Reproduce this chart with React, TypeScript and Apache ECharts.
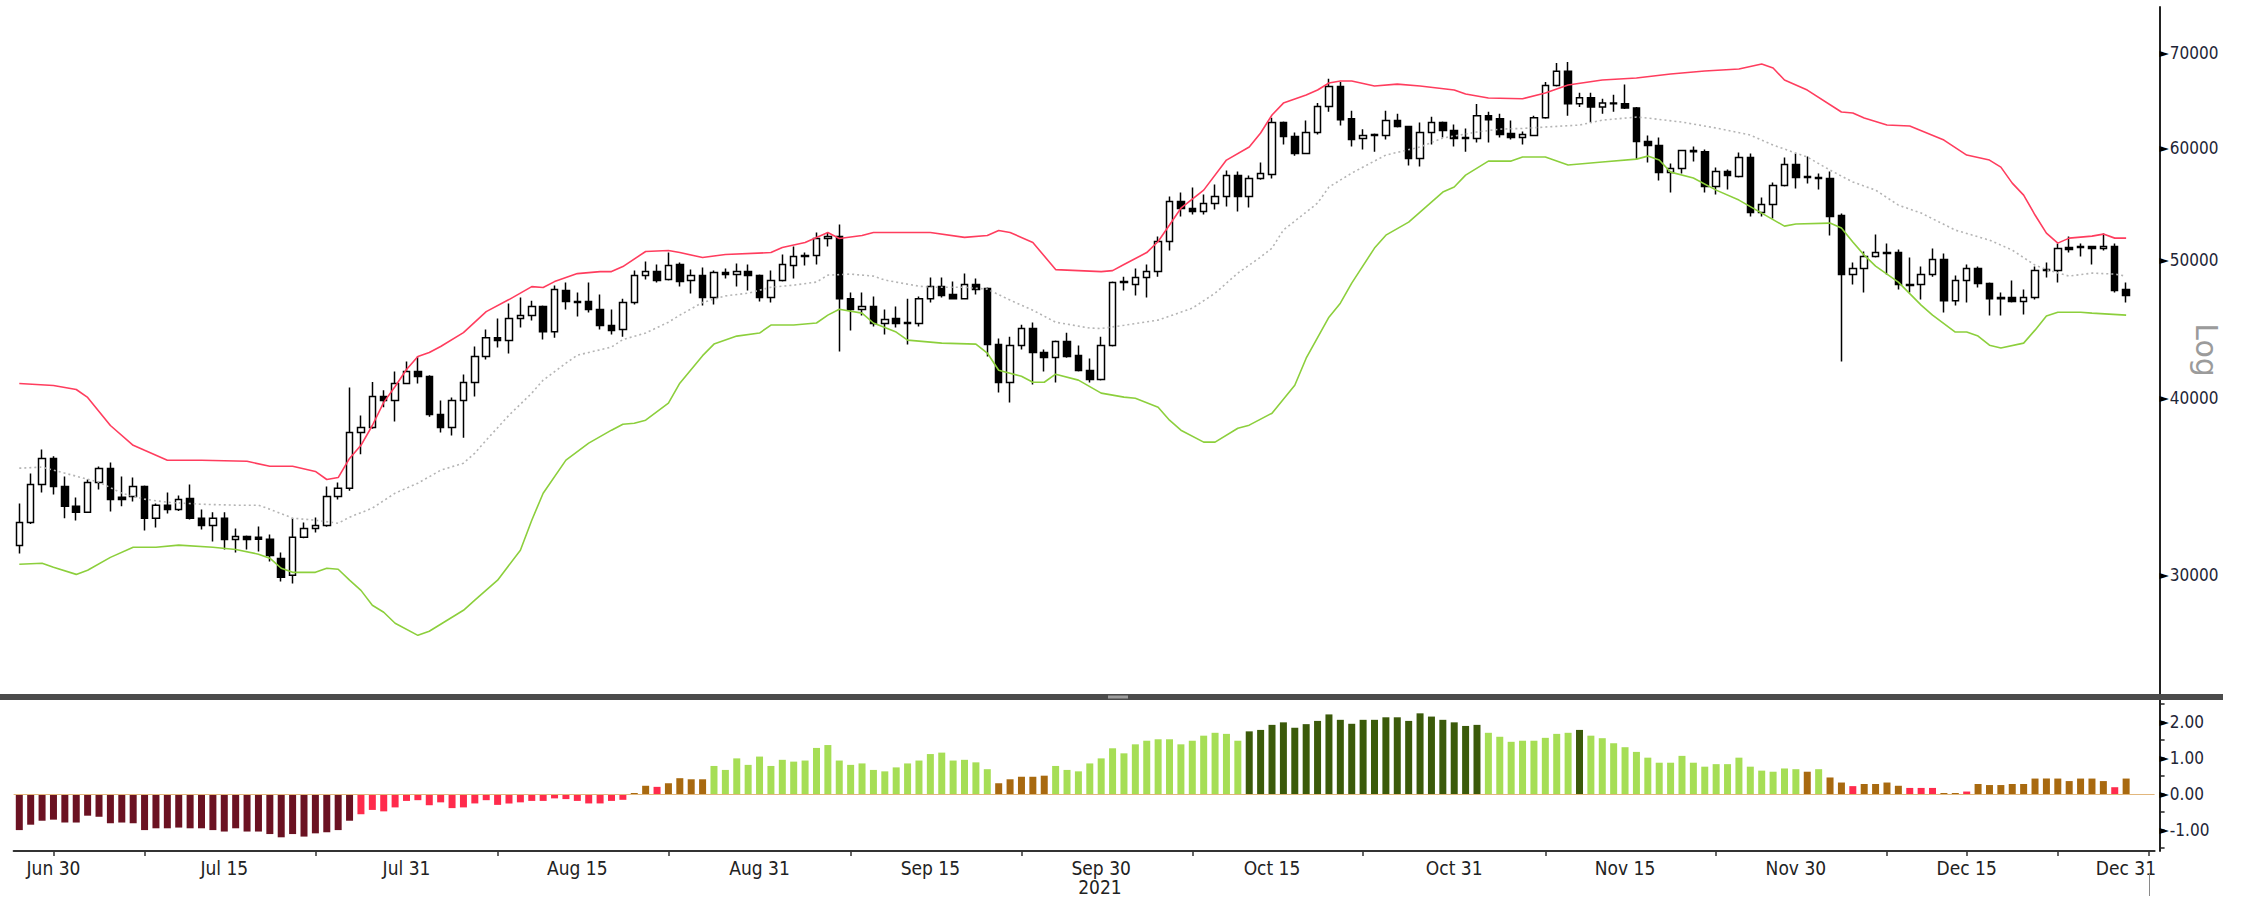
import React, { useEffect, useRef } from 'react';
import * as echarts from 'echarts';

// ---------- categories (daily, Jun 27 2021 .. Dec 31 2021) ----------
const FIRST_DAY_UTC = Date.UTC(2021, 5, 27);
const DAY_COUNT = 188;
const MONTHS = ['Jan', 'Feb', 'Mar', 'Apr', 'May', 'Jun', 'Jul', 'Aug', 'Sep', 'Oct', 'Nov', 'Dec'];
const categories: string[] = [];
for (let i = 0; i < DAY_COUNT; i++) {
  categories.push(new Date(FIRST_DAY_UTC + i * 86400000).toISOString().slice(0, 10));
}

const labelDates = [
  '2021-06-30', '2021-07-15', '2021-07-31', '2021-08-15', '2021-08-31', '2021-09-15',
  '2021-09-30', '2021-10-15', '2021-10-31', '2021-11-15', '2021-11-30', '2021-12-15', '2021-12-31',
];
const tickDates = [
  '2021-06-30', '2021-07-08', '2021-07-23', '2021-08-08', '2021-08-23', '2021-09-08', '2021-09-23',
  '2021-10-08', '2021-10-23', '2021-11-08', '2021-11-23', '2021-12-08', '2021-12-15', '2021-12-23', '2021-12-31',
];
const priceTicks = [30000, 40000, 50000, 60000, 70000];
const oscLabelValues = [-1, 0, 1, 2];
const oscTickValues = [-1.5, -1, -0.5, 0, 0.5, 1, 1.5, 2, 2.5];

// ---------- candles ----------
const opens = [
  31480, 32680, 34760, 36260, 34650, 33550, 33220, 34870, 35670, 34050,
  34090, 34650, 32900, 33600, 33380, 33970, 32900, 32520, 32900, 31790,
  31950, 31900, 31800, 30830, 30000, 31900, 32360, 32520, 34090, 34540,
  37820, 38120, 40090, 39830, 40950, 41760, 41420, 38930, 38120, 39830,
  41010, 42780, 44110, 43900, 45500, 45720, 46390, 44540, 47610, 46770,
  46770, 46170, 44980, 44690, 46700, 48780, 49100, 48470, 49670, 48390,
  48780, 47070, 49020, 48860, 49100, 48780, 47070, 48390, 49580, 50310,
  50400, 51810, 51980, 46990, 46170, 46390, 45130, 45500, 45200, 45130,
  46990, 47920, 47300, 46990, 48080, 47770, 43620, 41010, 43550, 44760,
  43060, 42710, 43830, 42850, 41820, 41210, 43550, 48310, 48080, 48630,
  49100, 51560, 55010, 54390, 54120, 54830, 55460, 57380, 55460, 57100,
  57480, 62530, 61130, 59460, 61540, 64180, 66290, 62930, 60930, 61330,
  61230, 62730, 62130, 58980, 61540, 62530, 61740, 61030, 60930, 63230,
  62930, 61440, 61030, 61230, 63030, 66400, 67970, 64460, 65100, 64140,
  64560, 64460, 64030, 60630, 60240, 57670, 58040, 59750, 59650, 56370,
  57760, 57290, 59080, 54040, 54740, 56460, 58410, 57290, 57200, 57100,
  53780, 48860, 49340, 50310, 50640, 50640, 48080, 48080, 48860, 50070,
  46840, 48390, 49340, 48160, 47070, 47070, 46770, 47070, 49260, 49180,
  51060, 51140, 51140, 50980, 51140, 47690,
];
const closes = [
  32680, 34760, 36260, 34650, 33550, 33220, 34870, 35670, 33920, 33920,
  34650, 32900, 33600, 33380, 33920, 32900, 32520, 32900, 31790, 31950,
  31790, 31800, 30980, 29900, 31900, 32360, 32520, 34090, 34540, 37820,
  38120, 40090, 39830, 40950, 41760, 41420, 38930, 38120, 39830, 41010,
  42780, 44110, 43900, 45500, 45720, 46390, 44540, 47690, 46770, 46700,
  46170, 44980, 44620, 46700, 48780, 49100, 48390, 49580, 48310, 48780,
  47070, 49020, 48860, 49100, 48780, 47070, 48390, 49670, 50310, 50400,
  51810, 51980, 46990, 46170, 46390, 45130, 45420, 45130, 45130, 46990,
  47920, 47230, 46990, 48080, 47690, 43620, 41010, 43550, 44760, 43060,
  42710, 43830, 42780, 41820, 41210, 43550, 48230, 48230, 48630, 49100,
  51560, 55010, 54390, 54120, 54830, 55460, 57380, 55460, 57100, 57570,
  62530, 61130, 59460, 61540, 64180, 66290, 62830, 60830, 61230, 61230,
  62730, 62130, 58980, 61540, 62530, 61740, 60930, 60930, 63230, 62830,
  61340, 61030, 61340, 63030, 66400, 67970, 64460, 65100, 64140, 64560,
  64460, 64030, 60630, 60240, 57670, 58040, 59750, 59650, 56370, 57760,
  57380, 59080, 54040, 54740, 56460, 58410, 57200, 57200, 57100, 53690,
  48860, 49340, 50310, 50640, 50560, 48080, 48000, 48860, 50070, 46840,
  48390, 49340, 48160, 46990, 46990, 46770, 47070, 49180, 49180, 50980,
  50890, 51060, 50980, 51140, 47610, 47230,
];
const lows = [
  31080, 32600, 34310, 34200, 32900, 32790, 33200, 34480, 33270, 33550,
  33810, 32260, 32410, 33160, 33300, 32840, 32310, 31690, 31280, 31130,
  31280, 31180, 30680, 29700, 29600, 31850, 32150, 32450, 33920, 34400,
  36500, 38050, 39400, 38500, 40900, 40950, 38800, 37820, 37640, 37500,
  40090, 42570, 43410, 42990, 44840, 45350, 43970, 44110, 46170, 45650,
  45950, 44690, 44330, 44180, 46550, 48470, 48230, 48400, 47920, 47380,
  46470, 46540, 48550, 47920, 47610, 46770, 46690, 48310, 48550, 49580,
  49670, 51140, 43130, 44620, 45720, 44910, 44330, 44840, 43620, 44910,
  46690, 47070, 46920, 46920, 47300, 42780, 40350, 39710, 43270, 40880,
  41760, 41010, 42700, 41750, 41010, 41140, 43480, 47610, 47230, 47070,
  48700, 50810, 53690, 53860, 53860, 54300, 54560, 54120, 54480, 57000,
  57100, 60340, 59260, 59400, 61340, 63650, 62230, 60140, 59850, 59650,
  60830, 62030, 58330, 58230, 60340, 61030, 60140, 59650, 60530, 60530,
  61030, 60830, 60340, 61150, 62930, 66290, 63230, 64140, 62530, 63440,
  63650, 63920, 58890, 58600, 56920, 55820, 57580, 58700, 55820, 55650,
  56090, 57200, 53690, 53690, 53520, 56370, 56180, 56650, 56090, 52060,
  42440, 48080, 47460, 50230, 48860, 47690, 47460, 46920, 48700, 45950,
  46470, 46690, 47850, 45720, 45720, 46700, 45800, 46920, 48630, 48230,
  50640, 50310, 49670, 50810, 47460, 46700,
];
const highs = [
  33700, 35380, 36790, 36380, 35210, 34030, 35040, 35780, 36020, 35210,
  35150, 34700, 33700, 34310, 34140, 34760, 33380, 33220, 33220, 32360,
  32000, 32470, 32050, 31130, 32900, 32680, 32950, 34650, 34870, 40680,
  38870, 41040, 40500, 41760, 42440, 42780, 41500, 39830, 40030, 41550,
  43480, 44690, 45500, 46620, 47080, 46840, 46470, 48000, 48230, 47460,
  48230, 47300, 46170, 46990, 49180, 49910, 49670, 50640, 49830, 49260,
  49420, 49180, 49340, 49750, 49670, 48860, 49180, 50480, 51140, 50640,
  52310, 52310, 53000, 47460, 47460, 47150, 46170, 46390, 46990, 47150,
  48630, 48630, 48310, 48940, 48550, 47850, 44040, 44180, 45050, 45200,
  43270, 43900, 44470, 43550, 42640, 44180, 48310, 48700, 49340, 49670,
  51980, 55460, 55830, 56270, 55640, 56550, 57850, 57750, 57380, 58600,
  63030, 62630, 61540, 62730, 64560, 67130, 66800, 63750, 61850, 61440,
  63750, 63440, 62200, 62530, 63130, 62630, 62330, 61940, 64440, 63650,
  63440, 62730, 61640, 63230, 66800, 68890, 69000, 65630, 65630, 64990,
  65420, 66510, 64140, 61230, 61030, 58510, 59800, 60140, 59850, 58130,
  57940, 59560, 59460, 55370, 56740, 59080, 59460, 59180, 57570, 57760,
  53950, 49830, 50730, 52140, 51390, 50890, 50230, 49500, 50980, 50560,
  48780, 49670, 49500, 48230, 47460, 48390, 47690, 49500, 49830, 51390,
  51980, 51390, 51200, 52220, 51390, 48230,
];

// ---------- Bollinger bands, read as [candle number, price] ----------
const upperBand = [
  [1, 40950], [4, 40810], [6, 40550], [7, 40030], [9, 38250], [11, 37040], [12, 36740], [14, 36150],
  [17, 36150], [21, 36090], [23, 35800], [25, 35800], [27, 35500], [28, 35040], [29, 35150], [30, 36260],
  [31, 37040], [32, 38250], [33, 39710], [34, 40750], [35, 41890], [36, 42780], [37, 43060], [38, 43480],
  [40, 44470], [42, 46010], [44, 46920], [46, 47920], [47, 47850], [48, 48310], [50, 48940], [52, 49100],
  [53, 49100], [54, 49500], [56, 50730], [58, 50810], [59, 50640], [61, 50230], [63, 50480], [67, 50640],
  [68, 51060], [70, 51480], [71, 51900], [72, 52310], [73, 51810], [75, 52060], [76, 52310], [81, 52310],
  [84, 51900], [86, 52060], [87, 52480], [88, 52310], [90, 51480], [92, 49260], [96, 49100], [97, 49180],
  [98, 49670], [100, 50640], [101, 51560], [102, 52950], [103, 54420], [105, 56040], [107, 58840], [109, 60100],
  [110, 61480], [111, 63300], [112, 64540], [114, 65390], [115, 65920], [116, 66680], [117, 66890], [118, 66890],
  [120, 66350], [122, 66560], [124, 66350], [127, 65920], [128, 65490], [130, 65070], [133, 65000], [135, 65600],
  [137, 66460], [140, 67000], [143, 67220], [146, 67660], [149, 67990], [152, 68210], [154, 68760], [155, 68320],
  [156, 67000], [158, 65920], [161, 63610], [162, 63510], [163, 62990], [165, 62280], [167, 62180], [170, 60780],
  [172, 59320], [174, 58840], [175, 58170], [176, 56680], [177, 55590], [178, 53820], [179, 52260], [180, 51420],
  [181, 51840], [183, 52010], [184, 52180], [185, 51840], [186, 51840],
];
const middleBand = [
  [1, 35690], [3, 35750], [5, 35400], [8, 34890], [10, 34270], [12, 33940], [14, 33770], [17, 33660],
  [20, 33610], [22, 33610], [23, 33390], [25, 32910], [27, 32800], [29, 32640], [30, 32960], [32, 33450],
  [34, 34270], [36, 34830], [38, 35570], [40, 35980], [41, 36570], [42, 37350], [44, 38890], [46, 40310],
  [47, 41170], [49, 42320], [50, 42870], [53, 43440], [54, 43970], [56, 44440], [58, 45230], [59, 45750],
  [61, 46700], [63, 47200], [65, 47410], [67, 47870], [69, 48030], [71, 48270], [72, 48820], [74, 48900],
  [76, 48740], [77, 48430], [80, 47950], [81, 47870], [84, 47870], [86, 47720], [88, 46880], [90, 46120],
  [92, 45230], [95, 44800], [96, 44770], [98, 45000], [101, 45380], [104, 46270], [106, 47410], [108, 48980],
  [110, 50270], [111, 51010], [112, 52520], [115, 54870], [116, 56320], [118, 57610], [121, 59320], [124, 60100],
  [126, 60980], [129, 61580], [131, 61870], [133, 61940], [135, 62080], [138, 62280], [140, 62780], [143, 63090],
  [144, 62990], [147, 62580], [150, 61980], [153, 61280], [155, 60290], [158, 59130], [160, 57890], [162, 56780],
  [164, 56040], [166, 54690], [168, 53990], [171, 52520], [174, 51670], [176, 50840], [178, 49620], [179, 49260],
  [181, 48740], [183, 48980], [185, 48900], [186, 48740],
];
const lowerBand = [
  [1, 30540], [3, 30590], [4, 30390], [6, 30040], [7, 30240], [9, 30880], [11, 31390], [13, 31390],
  [15, 31500], [18, 31390], [20, 31280], [22, 31040], [23, 30840], [24, 30340], [25, 30140], [27, 30140],
  [28, 30340], [29, 30290], [30, 29760], [31, 29270], [32, 28570], [33, 28250], [34, 27750], [36, 27210],
  [37, 27390], [40, 28340], [41, 28810], [43, 29760], [45, 31240], [46, 32800], [47, 34270], [49, 36160],
  [51, 37170], [53, 37960], [54, 38330], [55, 38390], [56, 38580], [58, 39660], [59, 40970], [61, 42840],
  [62, 43650], [64, 44220], [66, 44440], [67, 45020], [69, 45020], [71, 45170], [72, 45750], [73, 46190],
  [75, 45900], [76, 45170], [78, 44510], [79, 43930], [82, 43720], [85, 43650], [86, 43020], [87, 41840],
  [89, 41430], [90, 41030], [91, 41030], [92, 41570], [94, 41170], [96, 40310], [98, 40050], [99, 39980],
  [101, 39400], [102, 38580], [103, 37960], [105, 37230], [106, 37230], [108, 38080], [109, 38270], [111, 39020],
  [113, 40830], [114, 42660], [116, 45600], [117, 46650], [118, 48190], [120, 51010], [121, 52090], [123, 53200],
  [124, 54080], [126, 55860], [127, 56320], [128, 57420], [130, 58740], [132, 58740], [133, 59130], [135, 59130],
  [137, 58370], [140, 58650], [143, 58930], [144, 59220], [145, 58840], [146, 57700], [148, 57150], [150, 56040],
  [152, 55140], [154, 53990], [156, 52860], [157, 53040], [160, 53120], [161, 52690], [162, 51510], [163, 50430],
  [164, 49540], [166, 48270], [168, 46500], [169, 45750], [171, 44510], [172, 44510], [173, 44220], [174, 43570],
  [175, 43370], [177, 43720], [178, 44650], [179, 45680], [180, 45970], [182, 45970], [183, 45900], [186, 45750],
];

// ---------- lower panel oscillator ----------
const oscValues = [
  -1.0, -0.85, -0.74, -0.71, -0.79, -0.79, -0.6, -0.63, -0.81, -0.79,
  -0.81, -1.0, -0.95, -0.95, -0.93, -0.95, -0.95, -1.0, -1.04, -0.95,
  -1.04, -1.04, -1.11, -1.2, -1.11, -1.18, -1.09, -1.06, -1.0, -0.74,
  -0.56, -0.44, -0.48, -0.37, -0.19, -0.17, -0.31, -0.23, -0.39, -0.37,
  -0.26, -0.17, -0.3, -0.26, -0.23, -0.19, -0.19, -0.12, -0.14, -0.19,
  -0.26, -0.26, -0.19, -0.16, 0.03, 0.23, 0.2, 0.3, 0.44, 0.41,
  0.41, 0.78, 0.67, 0.99, 0.81, 1.04, 0.78, 0.95, 0.9, 0.93,
  1.28, 1.36, 0.93, 0.81, 0.85, 0.67, 0.63, 0.74, 0.85, 0.93,
  1.11, 1.15, 0.93, 0.95, 0.88, 0.69, 0.3, 0.41, 0.48, 0.48,
  0.51, 0.78, 0.67, 0.63, 0.85, 0.99, 1.27, 1.13, 1.38, 1.48,
  1.52, 1.52, 1.38, 1.48, 1.62, 1.7, 1.67, 1.48, 1.74, 1.78,
  1.92, 1.99, 1.84, 1.94, 2.03, 2.21, 2.06, 1.95, 2.06, 2.06,
  2.13, 2.13, 2.03, 2.24, 2.15, 2.06, 1.99, 1.89, 1.92, 1.7,
  1.59, 1.45, 1.48, 1.48, 1.56, 1.67, 1.7, 1.78, 1.62, 1.55,
  1.41, 1.3, 1.17, 1.01, 0.87, 0.87, 1.06, 0.87, 0.76, 0.83,
  0.83, 1.01, 0.76, 0.65, 0.62, 0.71, 0.69, 0.62, 0.69, 0.46,
  0.32, 0.22, 0.28, 0.28, 0.32, 0.23, 0.17, 0.17, 0.17, 0.03,
  0.03, 0.07, 0.28, 0.25, 0.25, 0.28, 0.28, 0.43, 0.43, 0.43,
  0.36, 0.43, 0.43, 0.36, 0.19, 0.43,
];
// colour class of each bar, as runs of [class, count]
const oscColorRuns: [string, number][] = [
  ['M', 30], ['R', 24], ['B', 2], ['R', 1], ['B', 4], ['L', 25], ['B', 5], ['L', 17], ['D', 21],
  ['L', 8], ['D', 1], ['L', 19], ['B', 1], ['L', 1], ['B', 2], ['R', 1], ['B', 4], ['R', 3],
  ['B', 2], ['R', 1], ['B', 12], ['R', 1], ['B', 1],
];
const oscPalette: Record<string, string> = {
  M: '#6b1222', R: '#ff2b4c', B: '#a8690f', L: '#a6de55', D: '#3b5a0a',
};

const NARROW = '"Liberation Sans Narrow", "Arial Narrow", "DejaVu Sans Condensed", sans-serif';
const AXISFONT = '"DejaVu Sans Condensed", "DejaVu Sans", Verdana, sans-serif';

function dateLabel(v: string): string {
  const m = Number(v.slice(5, 7));
  const d = Number(v.slice(8, 10));
  return `${MONTHS[m - 1]} ${d}`;
}

function buildOption() {
  const candleData = opens.map((o, i) => [o, closes[i], lows[i], highs[i]]);
  const oscCodes: string[] = [];
  oscColorRuns.forEach(([c, n]) => {
    for (let k = 0; k < n; k++) oscCodes.push(c);
  });
  const oscData = oscValues.map((v, i) => ({
    value: v,
    itemStyle: { color: oscPalette[oscCodes[i]] },
  }));
  const toSeries = (arr: number[][]) => arr.map(([n, v]) => [n - 1, v]);

  const GRID_LEFT = 13.6;
  const GRID_WIDTH = 2141;

  const rightLabelRich = {
    a: { fontSize: 12, color: '#000', fontFamily: '"DejaVu Sans", sans-serif', padding: [0, 1, 0, 0] },
    b: { fontSize: 17, color: '#1e2536', fontFamily: AXISFONT },
  };

  return {
    animation: false,
    backgroundColor: '#ffffff',
    grid: [
      { left: GRID_LEFT, width: GRID_WIDTH, top: 7, height: 687, containLabel: false, outerBoundsMode: 'none' },
      { left: GRID_LEFT, width: GRID_WIDTH, top: 700, height: 151, containLabel: false, outerBoundsMode: 'none' },
    ],
    xAxis: [
      {
        type: 'category', gridIndex: 0, data: categories, boundaryGap: true, show: false,
      },
      {
        type: 'category', gridIndex: 1, data: categories, boundaryGap: true,
        axisLine: { show: true, onZero: false, lineStyle: { color: '#333', width: 2 } },
        axisTick: {
          show: true, alignWithLabel: true, length: 5,
          interval: (_i: number, v: string) => tickDates.includes(v),
          lineStyle: { color: '#333', width: 1.5 },
        },
        axisLabel: {
          interval: (_i: number, v: string) => labelDates.includes(v),
          formatter: (v: string) => (v === '2021-12-31' ? `{r|${dateLabel(v)}}` : dateLabel(v)),
          color: '#222', fontSize: 19, fontFamily: NARROW, margin: 7,
          rich: { r: { padding: [0, 46, 0, 0], color: '#222', fontSize: 19, fontFamily: NARROW } },
        },
        splitLine: { show: false },
      },
    ],
    yAxis: [
      {
        type: 'log', gridIndex: 0, position: 'right', offset: 5, logBase: 10,
        min: 24740, max: 75430,
        axisLine: { show: true, onZero: false, lineStyle: { color: '#222', width: 2 } },
        axisTick: { show: false },
        splitLine: { show: false },
        axisLabel: {
          customValues: priceTicks, margin: 0,
          formatter: (v: number) => `{a|►}{b|${Math.round(v)}}`,
          rich: rightLabelRich,
        },
      },
      {
        type: 'value', gridIndex: 1, position: 'right', offset: 5, min: -1.58, max: 2.61,
        axisLine: { show: true, onZero: false, lineStyle: { color: '#222', width: 2 } },
        axisTick: { show: true, customValues: oscTickValues, length: 5, lineStyle: { color: '#222', width: 1.5 } },
        splitLine: { show: false },
        axisLabel: {
          customValues: oscLabelValues, margin: 0,
          formatter: (v: number) => `{a|►}{b|${v.toFixed(2)}}`,
          rich: rightLabelRich,
        },
      },
    ],
    series: [
      {
        type: 'candlestick', name: 'XBT', xAxisIndex: 0, yAxisIndex: 0, data: candleData,
        barWidth: 7, z: 2,
        itemStyle: { color: '#ffffff', color0: '#000000', borderColor: '#000000', borderColor0: '#000000', borderWidth: 1.5 },
      },
      {
        type: 'line', name: 'Upper', xAxisIndex: 0, yAxisIndex: 0, data: toSeries(upperBand),
        showSymbol: false, symbol: 'none', z: 3,
        lineStyle: { color: '#ff3d5e', width: 1.6 },
      },
      {
        type: 'line', name: 'Middle', xAxisIndex: 0, yAxisIndex: 0, data: toSeries(middleBand),
        showSymbol: false, symbol: 'none', z: 3,
        lineStyle: { color: '#b4b4b4', width: 1.6, type: [2, 3] },
      },
      {
        type: 'line', name: 'Lower', xAxisIndex: 0, yAxisIndex: 0, data: toSeries(lowerBand),
        showSymbol: false, symbol: 'none', z: 3,
        lineStyle: { color: '#8ccf3c', width: 1.6 },
      },
      {
        type: 'bar', name: 'Osc', xAxisIndex: 1, yAxisIndex: 1, data: oscData, barWidth: 7,
        markLine: {
          silent: true, symbol: 'none', label: { show: false },
          lineStyle: { color: '#e2b77c', width: 1, type: 'solid' },
          data: [{ yAxis: 0 }],
        },
      },
    ],
    graphic: [
      { type: 'rect', z: 100, shape: { x: 0, y: 694, width: 2223, height: 6 }, style: { fill: '#4b4b4b' } },
      { type: 'rect', z: 101, shape: { x: 1108, y: 695.5, width: 20, height: 3 }, style: { fill: '#9c9c9c' } },
      {
        type: 'text', z: 100, x: 2206, y: 350, rotation: -Math.PI / 2,
        style: { text: 'Log', fill: '#9b9b9b', fontSize: 30, fontFamily: '"DejaVu Sans", sans-serif', textAlign: 'center', textVerticalAlign: 'middle', verticalAlign: 'middle' },
      },
      {
        type: 'text', z: 100, x: 1100, y: 887,
        style: { text: '2021', fill: '#222', fontSize: 19, fontFamily: NARROW, textAlign: 'center', textVerticalAlign: 'middle', verticalAlign: 'middle' },
      },
      { type: 'line', z: 100, shape: { x1: 2149.5, y1: 873, x2: 2149.5, y2: 896 }, style: { stroke: '#8a8a8a', lineWidth: 1 } },
    ],
  };
}

export default function App() {
  const ref = useRef<HTMLDivElement>(null);
  useEffect(() => {
    if (!ref.current) return;
    const chart = echarts.init(ref.current, null, { renderer: 'svg' });
    chart.setOption(buildOption() as any);
    return () => chart.dispose();
  }, []);
  return (
    <div
      ref={ref}
      style={{ position: 'fixed', left: 0, top: 0, width: 2247, height: 899, background: '#ffffff' }}
    />
  );
}
